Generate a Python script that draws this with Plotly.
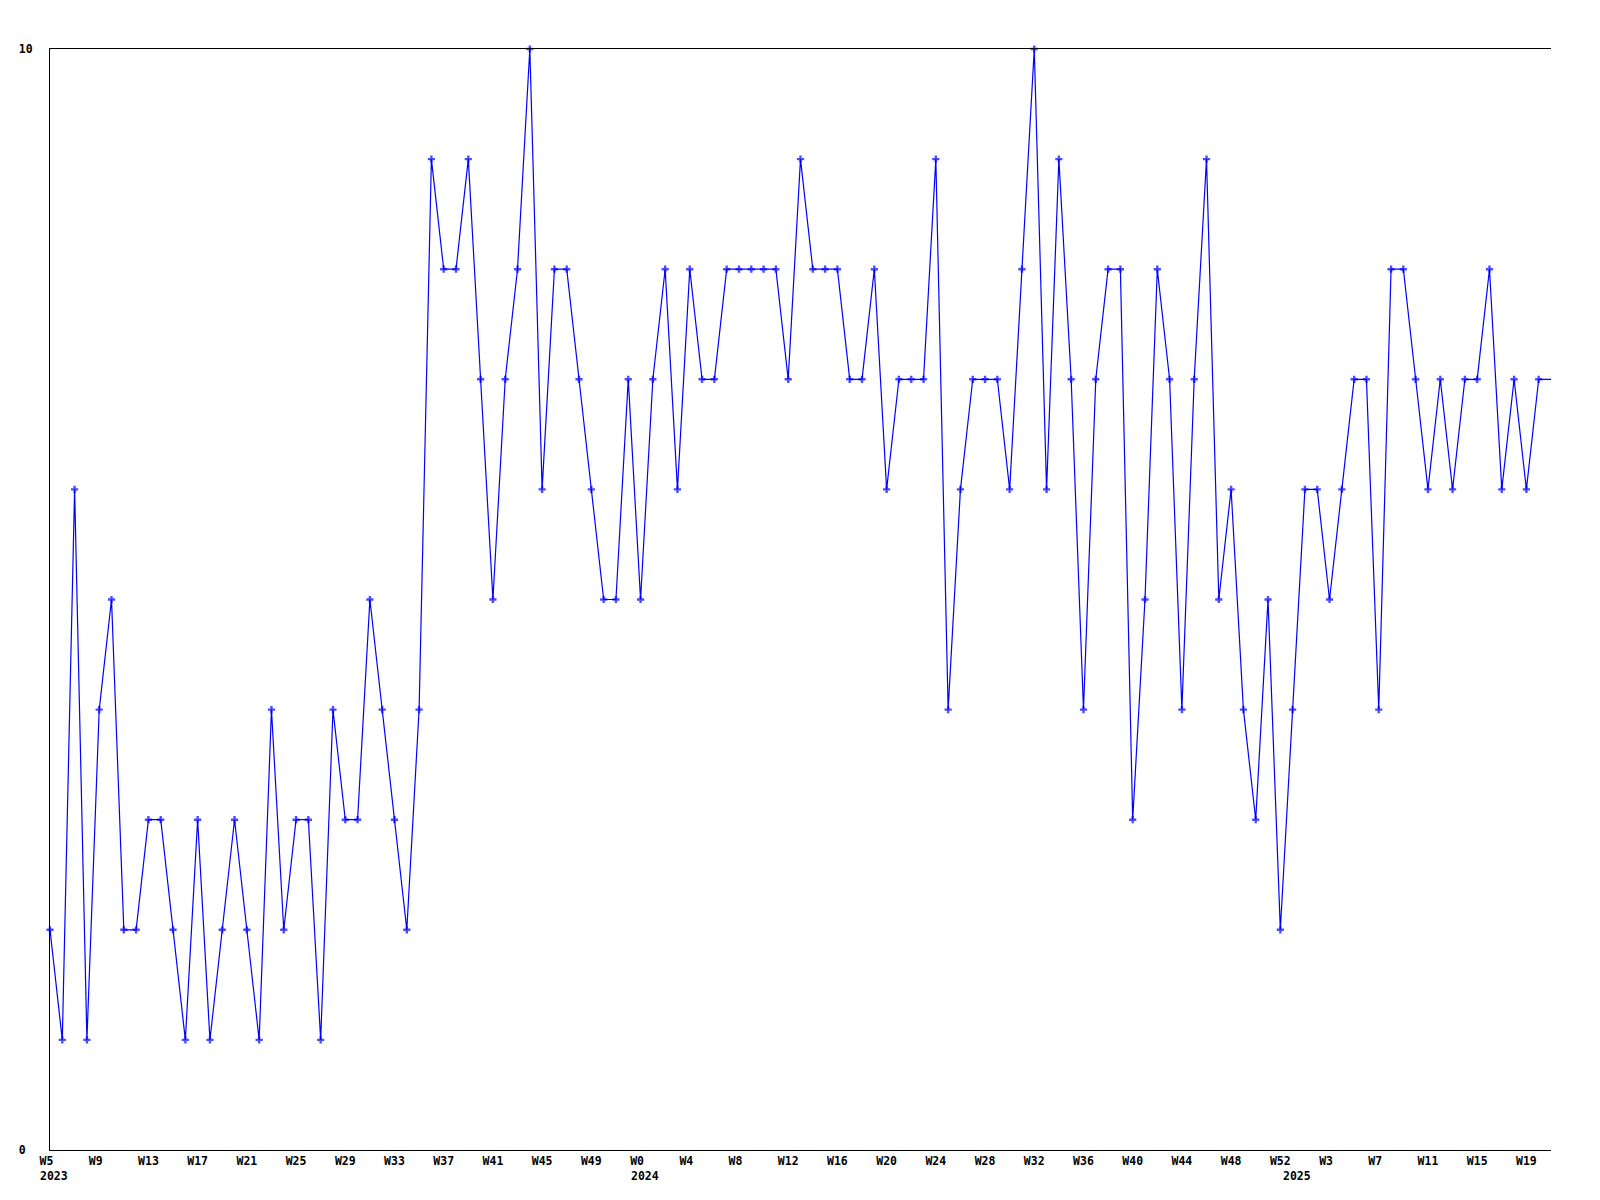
import plotly.graph_objects as go

# ---- data -------------------------------------------------------------
years = [2023, 2024, 2025]
first_week = [5, 0, 0]
last_week = [52, 52, 21]

values = [
    2, 1, 6, 1, 4, 5, 2, 2, 3, 3,
    2, 1, 3, 1, 2, 3, 2, 1, 4, 2,
    3, 3, 1, 4, 3, 3, 5, 4, 3, 2,
    4, 9, 8, 8, 9, 7, 5, 7, 8, 10,
    6, 8, 8, 7, 6, 5, 5, 7, 5, 7,
    8, 6, 8, 7, 7, 8, 8, 8, 8, 8,
    7, 9, 8, 8, 8, 7, 7, 8, 6, 7,
    7, 7, 9, 4, 6, 7, 7, 7, 6, 8,
    10, 6, 9, 7, 4, 7, 8, 8, 3, 5,
    8, 7, 4, 7, 9, 5, 6, 4, 3, 5,
    2, 4, 6, 6, 5, 6, 7, 7, 4, 8,
    8, 7, 6, 7, 6, 7, 7, 8, 6, 7,
    6, 7, 7,
]

y_ticks = [0, 10]
label_every = 4

# ---- derived ----------------------------------------------------------
periods = [(yr, w) for yr, a, b in zip(years, first_week, last_week)
           for w in range(a, b + 1)]
x = list(range(len(periods)))

NBSP = "\u00a0"


def week_label(w):
    s = f"W{w}"
    return s + NBSP * max(0, 3 - len(s))


tickvals = x[::label_every]
ticktext = [week_label(periods[i][1]) for i in tickvals]

year_first_idx = [next(i for i, p in enumerate(periods) if p[0] == yr) for yr in years]

FONT = dict(family="DejaVu Sans Mono", size=11.5, color="black", weight="bold")
BLUE = "#0000ff"

marker_sizes = [6] * (len(x) - 1) + [0]

fig = go.Figure()
fig.add_trace(go.Scatter(
    x=x, y=values, mode="lines+markers",
    line=dict(color=BLUE, width=1.2),
    marker=dict(symbol="cross", size=marker_sizes, color=BLUE, line=dict(width=0)),
    cliponaxis=False,
    showlegend=False,
    hoverinfo="skip",
))

for yr, idx in zip(years, year_first_idx):
    fig.add_annotation(
        x=idx, y=0, xref="x", yref="paper",
        text=str(yr), showarrow=False,
        xanchor="left", yanchor="top",
        xshift=-11, yshift=-18,
        font=FONT, borderpad=0,
    )

# page body adds an 8px margin; the figure is sized so the plot area lands
# at x 50..1551, y 49..1150 of the window
fig.update_layout(
    width=1584, height=1184,
    margin=dict(l=42, r=41, t=41, b=42, autoexpand=False),
    paper_bgcolor="white", plot_bgcolor="white",
    font=FONT,
)
fig.update_xaxes(
    range=[0, len(x) - 1],
    tickmode="array", tickvals=tickvals, ticktext=ticktext,
    showgrid=False, zeroline=False,
    showline=True, linecolor="black", linewidth=1, mirror=True,
    ticks="", tickfont=FONT, ticklabelstandoff=0,
    automargin=False,
)
fig.update_yaxes(
    range=[0, 10],
    tickmode="array", tickvals=y_ticks,
    ticktext=[str(v) + NBSP * (2 - len(str(v))) for v in y_ticks],
    showgrid=False, zeroline=False,
    showline=True, linecolor="black", linewidth=1, mirror=False,
    ticks="", tickfont=FONT, ticklabelstandoff=14,
    automargin=False,
)

fig.write_html("out.html")
